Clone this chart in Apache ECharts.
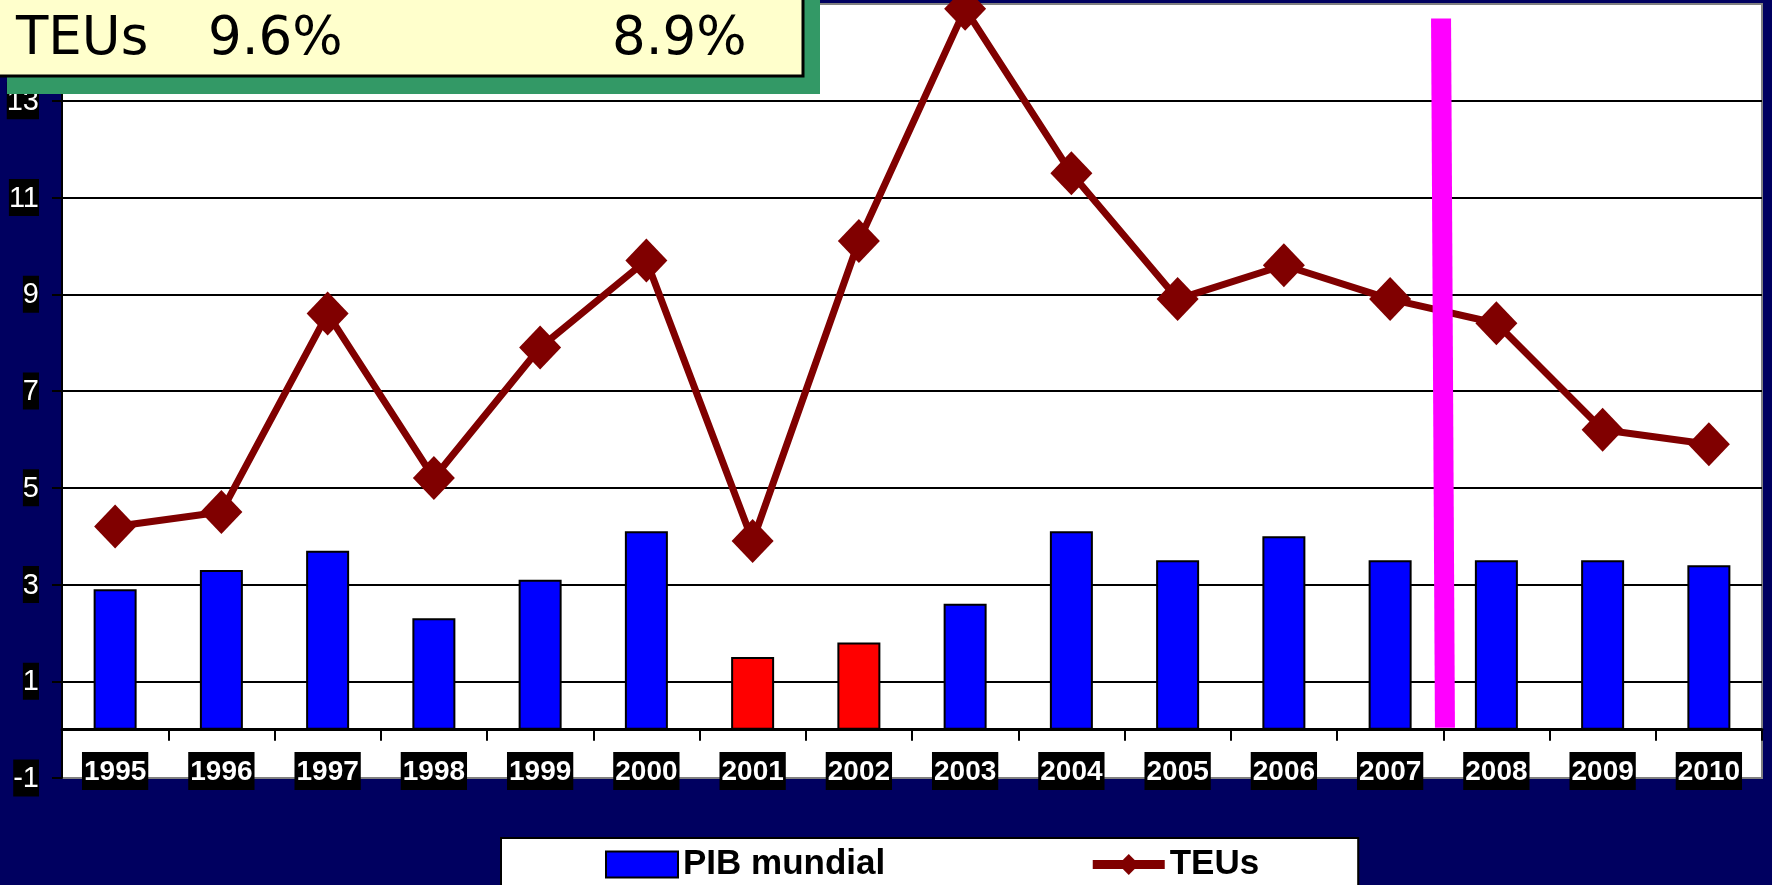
<!DOCTYPE html>
<html>
<head>
<meta charset="utf-8">
<script src="https://cdn.jsdelivr.net/npm/echarts@6/dist/echarts.min.js"></script>
<style>
  html, body { margin: 0; padding: 0; background: #000060; }
  #chart { width: 1772px; height: 885px; }
</style>
</head>
<body>
<div id="chart"></div>
<script>
// Years on the category axis
const years = ['1995', '1996', '1997', '1998', '1999', '2000', '2001', '2002',
               '2003', '2004', '2005', '2006', '2007', '2008', '2009', '2010'];
// World GDP growth (%), bars
const pibMundial = [2.9, 3.3, 3.7, 2.3, 3.1, 4.1, 1.5, 1.8, 2.6, 4.1, 3.5, 4.0, 3.5, 3.5, 3.5, 3.4];
// Container traffic growth (%), line
const teus = [4.2, 4.5, 8.6, 5.2, 7.9, 9.7, 3.9, 10.1, 14.9, 11.5, 8.9, 9.6, 8.9, 8.4, 6.2, 5.9];
// Years whose GDP bar is highlighted in red
const slowYears = ['2001', '2002'];
// Value axis range and step
const yMin = -1, yMax = 15, yStep = 2;
// Divider drawn after this year
const dividerAfter = '2007';
// Headline box texts
const headline = ['TEUs', '9.6%', '8.9%'];

const ARIAL = "'Liberation Sans', Arial, sans-serif";

const chart = echarts.init(document.getElementById('chart'), null, { renderer: 'canvas' });

const tickCount = Math.round((yMax - yMin) / yStep) + 1;
const splitColors = [];
for (let i = 0; i < tickCount; i++) {
  splitColors.push(i === 0 || i === tickCount - 1 ? '#808080' : '#000000');
}

const option = {
  animation: false,
  backgroundColor: '#000060',
  grid: {
    left: 62, top: 4, right: 10, bottom: 107,
    containLabel: false,
    outerBoundsMode: 'none',
    show: true, backgroundColor: '#ffffff', borderColor: '#808080', borderWidth: 2
  },
  legend: {
    left: 501, top: 838,
    itemWidth: 72, itemHeight: 26, itemGap: 203,
    padding: [9, 99, 30, 104],
    backgroundColor: '#ffffff', borderColor: '#000000', borderWidth: 2,
    textStyle: { fontFamily: ARIAL, fontWeight: 'bold', fontSize: 35, color: '#000', lineHeight: 30 },
    data: [
      { name: 'PIB mundial', icon: 'rect' },
      { name: 'TEUs', lineStyle: { width: 9 } }
    ]
  },
  xAxis: {
    type: 'category',
    data: years,
    position: 'bottom',
    axisLine: { onZero: true, lineStyle: { color: '#000', width: 3 } },
    axisTick: { show: true, length: 11, lineStyle: { color: '#000', width: 2 } },
    axisLabel: {
      interval: 0, margin: -21,
      formatter: '{t|{value}}',
      rich: {
        t: {
          color: '#fff', backgroundColor: '#000',
          fontFamily: ARIAL, fontWeight: 'bold', fontSize: 28, lineHeight: 28,
          padding: [6, 2, 4, 2]
        }
      }
    },
    splitLine: { show: false }
  },
  yAxis: {
    type: 'value',
    min: yMin, max: yMax, interval: yStep,
    axisLine: { show: true, onZero: false, lineStyle: { color: '#000', width: 2 } },
    axisTick: { show: true, length: 10, lineStyle: { color: '#000', width: 2 } },
    axisLabel: {
      margin: 23,
      formatter: '{t|{value}}',
      rich: {
        t: {
          color: '#fff', backgroundColor: '#000',
          fontFamily: ARIAL, fontSize: 29, lineHeight: 29,
          padding: [5, 0, 3, 0]
        }
      }
    },
    splitLine: { show: true, lineStyle: { color: splitColors, width: 2 } }
  },
  series: [{
    name: 'PIB mundial',
    type: 'bar',
    barWidth: 43,
    z: 2,
    itemStyle: { color: '#0000ff', borderColor: '#000', borderWidth: 2 },
    data: pibMundial.map((v, i) => slowYears.includes(years[i])
      ? { value: v, itemStyle: { color: '#ff0000' } }
      : v)
  }, {
    name: 'TEUs',
    type: 'line',
    z: 3,
    clip: false,
    symbol: 'diamond',
    symbolSize: [42, 44],
    lineStyle: { color: '#800000', width: 7 },
    itemStyle: { color: '#800000' },
    data: teus
  }]
};

chart.setOption(option);

// Divider between two years, plus the headline box
const i0 = years.indexOf(dividerAfter);
const pA = chart.convertToPixel({ seriesIndex: 0 }, [i0, 0]);
const pB = chart.convertToPixel({ seriesIndex: 0 }, [i0 + 1, 0]);
const midX = (pA[0] + pB[0]) / 2;
const topY = chart.convertToPixel({ seriesIndex: 0 }, [i0, 14.7])[1];
const botY = pA[1] - 2;
const halfW = 10;
const headFont = "53px 'DejaVu Sans'";

chart.setOption({
  graphic: [{
    type: 'polygon', z: 50,
    shape: { points: [
      [midX - 2.2 - halfW, topY], [midX - 2.2 + halfW, topY],
      [midX + 1.7 + halfW, botY], [midX + 1.7 - halfW, botY]
    ] },
    style: { fill: '#ff00ff' }
  }, {
    type: 'rect', z: 100, shape: { x: 7, y: -20, width: 813, height: 114 },
    style: { fill: '#339966' }
  }, {
    type: 'rect', z: 101, shape: { x: -9, y: -20, width: 812, height: 96 },
    style: { fill: '#ffffcc', stroke: '#000', lineWidth: 3 }
  }, {
    type: 'text', z: 102, x: 16, y: 40,
    style: { text: headline[0], fill: '#000', font: headFont, verticalAlign: 'middle' }
  }, {
    type: 'text', z: 102, x: 208, y: 40,
    style: { text: headline[1], fill: '#000', font: headFont, verticalAlign: 'middle' }
  }, {
    type: 'text', z: 102, x: 612, y: 40,
    style: { text: headline[2], fill: '#000', font: headFont, verticalAlign: 'middle' }
  }]
});
</script>
</body>
</html>
